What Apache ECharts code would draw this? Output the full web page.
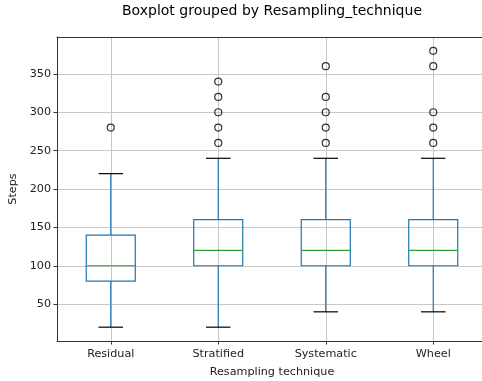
<!DOCTYPE html>
<html>
<head>
<meta charset="utf-8">
<script src="https://cdn.jsdelivr.net/npm/echarts@6/dist/echarts.min.js"></script>
<style>html,body{margin:0;padding:0;background:#fff;}#c{width:482px;height:381px;}</style>
</head>
<body>
<div id="c"></div>
<script>
const categories = ['Residual', 'Stratified', 'Systematic', 'Wheel'];
// [lower whisker, Q1, median, Q3, upper whisker]
const boxStats = [
  [20, 80, 100, 140, 220],
  [20, 100, 120, 160, 240],
  [40, 100, 120, 160, 240],
  [40, 100, 120, 160, 240]
];
const outliers = [
  [280],
  [260, 280, 300, 320, 340],
  [260, 280, 300, 320, 360],
  [260, 280, 300, 360, 380]
];
const yTicks = [50, 100, 150, 200, 250, 300, 350];
const xTicks = [1, 2, 3, 4];

const boxData = boxStats.map((s, i) => [i + 1].concat(s));
const outlierData = [];
outliers.forEach((arr, i) => arr.forEach(v => outlierData.push([i + 1, v])));

const chart = echarts.init(document.getElementById('c'), null, {renderer: 'canvas'});
const font = 'DejaVu Sans';
const txt = '#222';
chart.setOption({
  animation: false,
  title: {
    text: 'Boxplot grouped by Resampling_technique',
    left: 267, top: -1, textAlign: 'center',
    textStyle: {fontFamily: font, fontSize: 14, fontWeight: 'normal', color: '#000'}
  },
  grid: {left: 57, width: 430, top: 37, height: 304, show: false, containLabel: false, outerBoundsMode: 'none'},
  xAxis: [{
    type: 'value', min: 0.5, max: 4.5,
    name: 'Resampling technique', nameLocation: 'middle', nameGap: 26,
    nameTextStyle: {fontFamily: font, fontSize: 11.2, color: txt},
    axisLine: {show: true, onZero: false, lineStyle: {color: '#333'}},
    axisTick: {show: true, customValues: xTicks, length: 3.5, lineStyle: {color: '#333'}},
    axisLabel: {customValues: xTicks, fontFamily: font, fontSize: 11.2, color: txt, margin: 8,
      formatter: v => categories[Math.round(v) - 1] || ''},
    splitLine: {show: true, lineStyle: {color: '#c8c8c8', width: 1}}
  }, {
    type: 'value', min: 0.5, max: 4.5, position: 'top',
    axisLine: {show: true, onZero: false, lineStyle: {color: '#333'}},
    axisTick: {show: false}, axisLabel: {show: false}, splitLine: {show: false}
  }],
  yAxis: [{
    type: 'value', min: 2, max: 398,
    name: 'Steps', nameLocation: 'middle', nameGap: 36, nameRotate: 90,
    nameTextStyle: {fontFamily: font, fontSize: 11.2, color: txt},
    axisLine: {show: true, onZero: false, lineStyle: {color: '#333'}},
    axisTick: {show: true, customValues: yTicks, length: 3.5, lineStyle: {color: '#333'}},
    axisLabel: {customValues: yTicks, fontFamily: font, fontSize: 11.2, color: txt, margin: 6},
    splitLine: {show: true, lineStyle: {color: '#c8c8c8', width: 1}}
  }],
  series: [
    {
      type: 'custom',
      data: boxData,
      encode: {x: 0, y: [1, 2, 3, 4, 5]},
      clip: false,
      renderItem: function (params, api) {
        const x = api.value(0);
        const lo = api.coord([x, api.value(1)]);
        const q1 = api.coord([x, api.value(2)]);
        const med = api.coord([x, api.value(3)]);
        const q3 = api.coord([x, api.value(4)]);
        const hi = api.coord([x, api.value(5)]);
        const bw = api.size([0.456, 0])[0];
        const cw = bw / 2;
        const cx = q1[0];
        const blue = '#1f77b4';
        return {
          type: 'group',
          children: [
            {type: 'line', shape: {x1: cx, y1: q1[1], x2: cx, y2: lo[1]}, style: {stroke: blue, lineWidth: 1.2}},
            {type: 'line', shape: {x1: cx, y1: q3[1], x2: cx, y2: hi[1]}, style: {stroke: blue, lineWidth: 1.2}},
            {type: 'line', shape: {x1: cx - cw / 2, y1: lo[1], x2: cx + cw / 2, y2: lo[1]}, style: {stroke: '#000', lineWidth: 1.2}},
            {type: 'line', shape: {x1: cx - cw / 2, y1: hi[1], x2: cx + cw / 2, y2: hi[1]}, style: {stroke: '#000', lineWidth: 1.2}},
            {type: 'rect', shape: {x: cx - bw / 2, y: q3[1], width: bw, height: q1[1] - q3[1]}, style: {stroke: blue, fill: 'none', lineWidth: 1.2}},
            {type: 'line', shape: {x1: cx - bw / 2, y1: med[1], x2: cx + bw / 2, y2: med[1]}, style: {stroke: '#2ca02c', lineWidth: 1.2}}
          ]
        };
      },
      z: 3
    },
    {
      type: 'scatter',
      data: outlierData,
      symbol: 'circle',
      symbolSize: 7,
      itemStyle: {color: 'rgba(255,255,255,0)', borderColor: '#000', borderWidth: 1.2},
      z: 4
    }
  ]
});
</script>
</body>
</html>
